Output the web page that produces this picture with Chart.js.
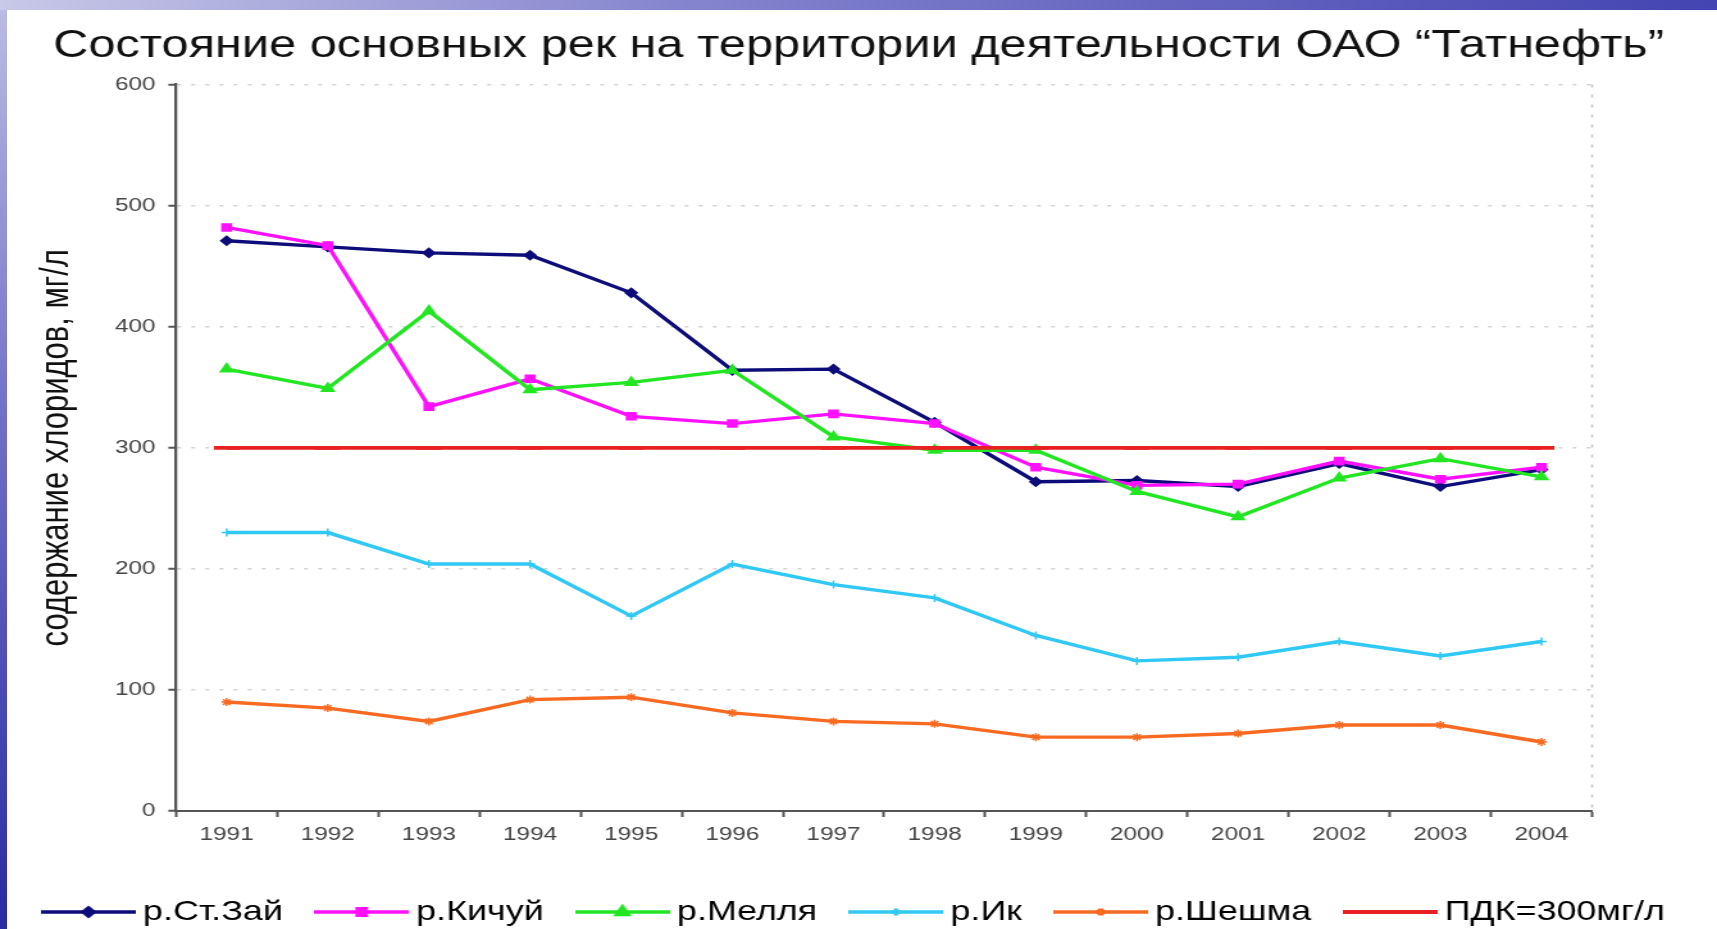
<!DOCTYPE html>
<html lang="ru">
<head>
<meta charset="utf-8">
<title>Состояние основных рек</title>
<script src="https://cdn.jsdelivr.net/npm/chart.js@4.4.0/dist/chart.umd.min.js"></script>
<style>
  html, body { margin: 0; padding: 0; width: 1717px; height: 929px; overflow: hidden; }
  body { position: relative; background: linear-gradient(to bottom, #bcbce4 0%, #7070c6 45%, #2a2aa2 100%); }
  #topband { position: absolute; left: 0; top: 0; width: 1717px; height: 10px;
             background: linear-gradient(to right, #c8c8e8 0%, #8484ce 40%, #4444b2 100%); }
  #panel { position: absolute; left: 7px; top: 10px; right: 0; bottom: 0; background: #fff; }
  #chart { position: absolute; left: 0; top: 0; }
</style>
</head>
<body>
<div id="topband"></div>
<div id="panel"></div>
<!-- холст растянут по ширине, как на слайде -->
<canvas id="chart" width="1340" height="929" style="width: 1717px; height: 929px;"></canvas>
<script>
// Годы наблюдений
const years = ['1991', '1992', '1993', '1994', '1995', '1996', '1997',
               '1998', '1999', '2000', '2001', '2002', '2003', '2004'];

// Содержание хлоридов, мг/л
const stZai   = [471, 466, 461, 459, 428, 364, 365, 321, 272, 273, 268, 287, 268, 282];
const kichuy  = [482, 467, 334, 357, 326, 320, 328, 320, 284, 269, 270, 289, 274, 284];
const mellya  = [365, 349, 413, 348, 354, 364, 309, 298, 298, 264, 243, 275, 291, 276];
const ik      = [230, 230, 204, 204, 161, 204, 187, 176, 145, 124, 127, 140, 128, 140];
const sheshma = [90, 85, 74, 92, 94, 81, 74, 72, 61, 61, 64, 71, 71, 57];
const pdk     = [300, 300, 300, 300, 300, 300, 300, 300, 300, 300, 300, 300, 300, 300];

const yTicks = [0, 100, 200, 300, 400, 500, 600];

const FONT = "'Liberation Sans', Arial, sans-serif";

// Серии: подпись, данные, цвет, маркер
const series = [
    { label: 'р.Ст.Зай', data: stZai,   color: '#0c0c7a', style: 'rectRot',  radius: 4.5, order: 6 },
    { label: 'р.Кичуй',  data: kichuy,  color: '#ff10ff', style: 'rect',     radius: 5,   order: 5 },
    { label: 'р.Мелля',  data: mellya,  color: '#22e622', style: 'triangle', radius: 5.5, order: 4 },
    { label: 'р.Ик',     data: ik,      color: '#30c8f4', style: 'cross',    radius: 4,   order: 3 },
    { label: 'р.Шешма',  data: sheshma, color: '#f86a22', style: 'star',     radius: 4,   order: 2 },
    { label: 'ПДК=300мг/л', data: pdk,  color: '#e82020', style: 'line',     radius: 10,  order: 1 }
];

// Значок легенды: линия с маркером посередине
const legendIcon = (s) => {
    const c = document.createElement('canvas');
    c.width = 74;
    c.height = 16;
    const g = c.getContext('2d');
    g.strokeStyle = s.color;
    g.fillStyle = s.color;
    g.lineWidth = s.style === 'line' ? 4 : 3.5;
    g.beginPath();
    g.moveTo(0, 8);
    g.lineTo(74, 8);
    g.stroke();
    if (s.style !== 'line') {
        Chart.helpers.drawPoint(g, { pointStyle: s.style, radius: s.radius - 0.5, rotation: 0, borderWidth: 2 }, 37, 8);
    }
    return c;
};

// Пунктирная правая граница области построения
const plotFrame = {
    id: 'plotFrame',
    beforeDatasetsDraw(chart) {
        const { ctx, chartArea: a } = chart;
        ctx.save();
        ctx.strokeStyle = '#c4c4c4';
        ctx.lineWidth = 1.5;
        ctx.setLineDash([3, 7]);
        ctx.beginPath();
        ctx.moveTo(a.right, a.top);
        ctx.lineTo(a.right, a.bottom);
        ctx.stroke();
        ctx.restore();
    }
};

const createRiverChart = () => {
    const ctx = document.getElementById('chart').getContext('2d');
    new Chart(ctx, {
        type: 'line',
        data: {
            labels: years,
            datasets: series.map(s => ({
                label: s.label,
                data: s.data,
                borderColor: s.color,
                backgroundColor: s.color,
                borderWidth: s.style === 'line' ? 3.8 : 3.4,
                tension: 0,
                pointStyle: s.style,
                pointRadius: s.radius,
                pointBorderWidth: s.style === 'line' ? 3.8 : 1.5,
                pointBackgroundColor: s.color,
                pointBorderColor: s.color,
                order: s.order
            }))
        },
        plugins: [plotFrame],
        options: {
            responsive: false,
            animation: false,
            devicePixelRatio: 1,
            events: [],
            layout: { padding: { top: 0, left: 0, right: 0, bottom: -7 } },
            scales: {
                x: {
                    offset: true,
                    grid: {
                        offset: true,
                        drawOnChartArea: false,
                        tickLength: 6,
                        tickColor: '#555',
                        tickWidth: 2
                    },
                    border: { color: '#555', width: 2 },
                    ticks: {
                        color: '#444',
                        font: { family: FONT, size: 19 },
                        padding: 6,
                        maxRotation: 0,
                        autoSkip: false
                    },
                    afterFit: (scale) => { scale.height = 54; }
                },
                y: {
                    min: 0,
                    max: 600,
                    afterBuildTicks: (scale) => { scale.ticks = yTicks.map(v => ({ value: v })); },
                    grid: {
                        color: '#d2d2d2',
                        lineWidth: 1.5,
                        tickLength: 6,
                        tickColor: '#555',
                        tickWidth: 2,
                        tickBorderDash: []
                    },
                    border: { color: '#555', width: 2.3, dash: [3, 8] },
                    ticks: {
                        color: '#444',
                        font: { family: FONT, size: 19 },
                        padding: 10
                    },
                    title: {
                        display: true,
                        text: 'содержание хлоридов, мг/л',
                        color: '#111',
                        font: { family: FONT, size: 31 },
                        padding: { top: 26, bottom: 0 }
                    },
                    afterFit: (scale) => { scale.width = 137.4; }
                },
                // пустое место справа от области построения
                yRight: {
                    position: 'right',
                    grid: { display: false },
                    border: { display: false },
                    ticks: { display: false },
                    afterFit: (scale) => { scale.width = 97.5; }
                }
            },
            plugins: {
                title: {
                    display: true,
                    text: 'Состояние основных рек на территории деятельности ОАО “Татнефть”',
                    color: '#111',
                    font: { family: FONT, size: 38, weight: 'normal' },
                    padding: { top: 23.5, bottom: 15.5 }
                },
                legend: {
                    position: 'bottom',
                    labels: {
                        usePointStyle: true,
                        pointStyleWidth: 57,
                        padding: 33,
                        color: '#111',
                        font: { family: FONT, size: 28 },
                        generateLabels: () => series.map((s, i) => ({
                            text: s.label,
                            fillStyle: s.color,
                            strokeStyle: s.color,
                            lineWidth: 0,
                            pointStyle: legendIcon(s),
                            hidden: false,
                            datasetIndex: i
                        }))
                    }
                },
                tooltip: { enabled: false }
            }
        }
    });
};

document.addEventListener('DOMContentLoaded', createRiverChart);
</script>
</body>
</html>
